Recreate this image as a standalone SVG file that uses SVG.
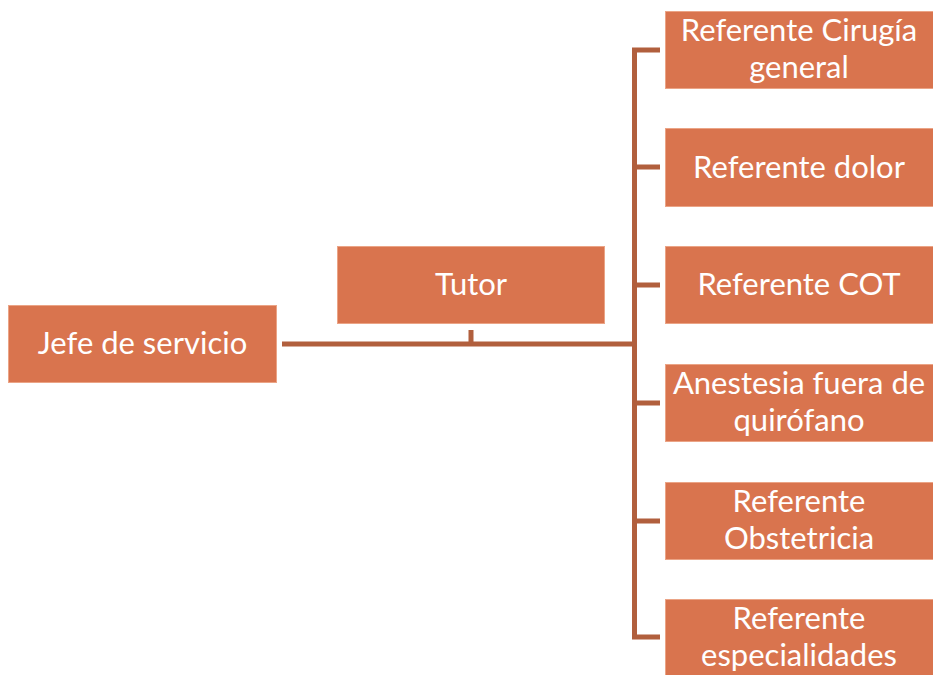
<svg xmlns="http://www.w3.org/2000/svg" width="933" height="675" viewBox="0 0 933 675">
<style>
.box{fill:#D9744E;stroke:#EBA486;stroke-width:1}
.t{font-family:Lato,"Liberation Sans",sans-serif;font-size:31px;fill:#FFFFFF;text-anchor:middle}
.c{stroke:#B15F3D;stroke-width:5;fill:none}
</style>
<rect width="933" height="675" fill="#FFFFFF"/>
<g id="connectors">
<path class="c" d="M282 344H634.5"/>
<path class="c" d="M471 330V344"/>
<path class="c" d="M660 50H634.5V637H660"/>
<path class="c" d="M634.5 167H660M634.5 285H660M634.5 403H660M634.5 521H660"/>
</g>
<g id="jefe"><rect class="box" x="8.5" y="305.5" width="268" height="77"/><text class="t" x="142.5" y="354">Jefe de servicio</text></g>
<g id="tutor"><rect class="box" x="337.5" y="246.5" width="267" height="77"/><text class="t" x="471" y="295">Tutor</text></g>
<g id="cirugia"><rect class="box" x="665.5" y="11.5" width="268" height="77"/><text class="t" x="799" y="41">Referente Cirugía</text><text class="t" x="799" y="78">general</text></g>
<g id="dolor"><rect class="box" x="665.5" y="128.5" width="268" height="78"/><text class="t" x="799" y="177.5">Referente dolor</text></g>
<g id="cot"><rect class="box" x="665.5" y="246.5" width="268" height="77"/><text class="t" x="799" y="295">Referente COT</text></g>
<g id="anestesia"><rect class="box" x="665.5" y="364.5" width="268" height="77"/><text class="t" x="799" y="394">Anestesia fuera de</text><text class="t" x="799" y="431">quirófano</text></g>
<g id="obstetricia"><rect class="box" x="665.5" y="482.5" width="268" height="77"/><text class="t" x="799" y="512">Referente</text><text class="t" x="799" y="549">Obstetricia</text></g>
<g id="especialidades"><rect class="box" x="665.5" y="599.5" width="268" height="78"/><text class="t" x="799" y="629">Referente</text><text class="t" x="799" y="666">especialidades</text></g>
</svg>
